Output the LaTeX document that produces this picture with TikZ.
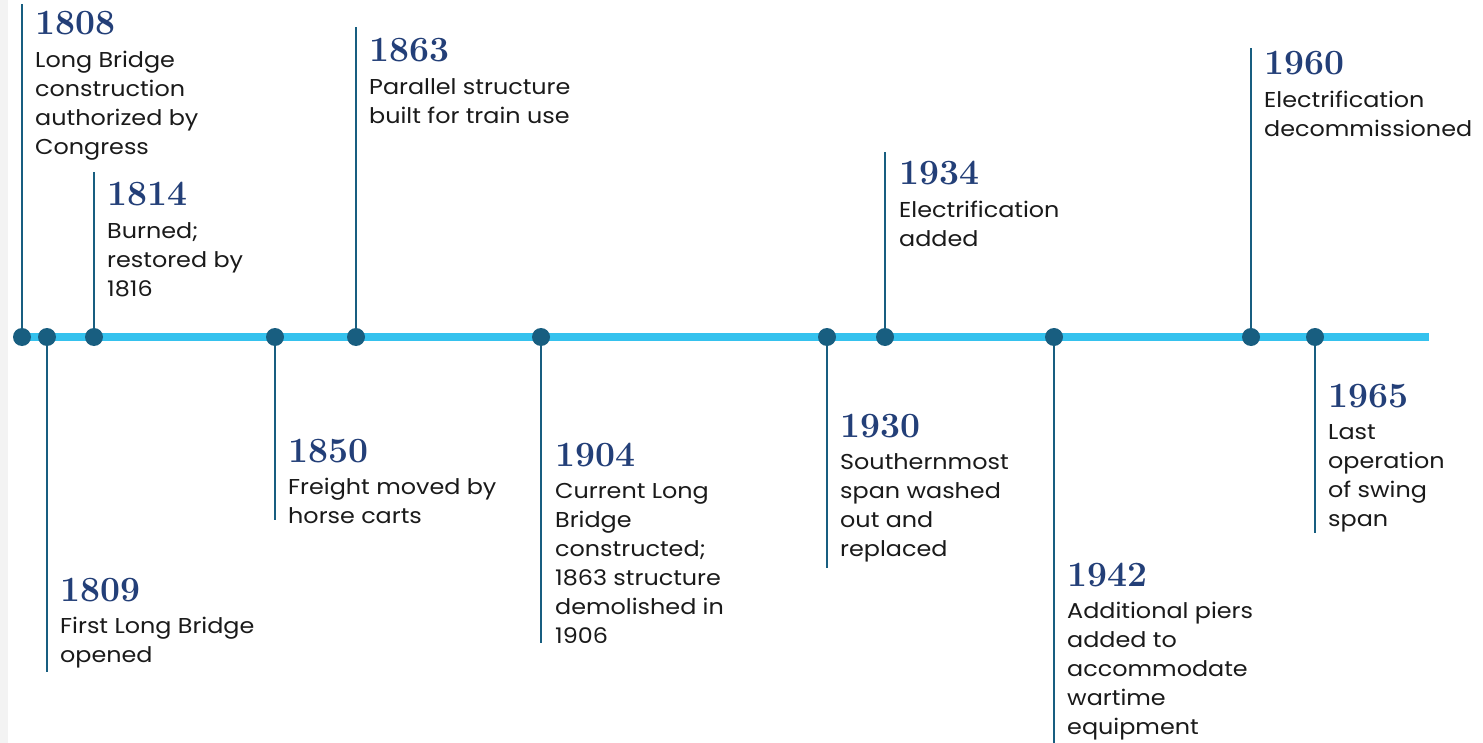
\documentclass[tikz,border=0pt]{standalone}
\usepackage{fontspec}
\newfontfamily\descfont[FakeStretch=1.11]{Poppins}
\definecolor{tlline}{HTML}{35C2EE}
\definecolor{tldot}{HTML}{185E80}
\definecolor{tlyear}{HTML}{233F78}
\definecolor{tltext}{HTML}{1A1A1A}
\definecolor{tledge}{HTML}{F3F3F3}
\tikzset{
  mainline/.style={line width=8pt, tlline},
  stem/.style={line width=2.6pt, tldot},
  dot/.style={circle, fill=tldot, minimum size=18pt, inner sep=0pt},
  yearlbl/.style={anchor=base west, inner sep=0pt, text=tlyear, font=\fontsize{35.5}{37}\selectfont\bfseries},
  desc/.style={anchor=base west, inner sep=0pt, text=tltext, font=\descfont\fontsize{21.5}{29}\selectfont},
}
% #1 year, #2 x, #3 stem end y, #4 year baseline y, #5 text x, #6 description
\newcommand{\tlev}[6]{%
  \coordinate (c#1) at (#2,337);
  \coordinate (e#1) at (#2,#3);
  \draw[stem] (c#1) -- (e#1);
  \node[dot] (d#1) at (c#1) {};
  \node[yearlbl] (y#1) at (#5,#4) {#1};
  \node[desc] (t#1) at (#5,#4+32.5) {\begin{tabular}[t]{@{}l@{}}#6\end{tabular}};
}
\begin{document}
\begin{tikzpicture}[x=1pt,y=-1pt]
\useasboundingbox (0,0) rectangle (1483,743);
\fill[white] (0,0) rectangle (1483,743);
\fill[tledge] (0,0) rectangle (8,743);
\coordinate (ls) at (20,337);
\coordinate (le) at (1429,337);
\draw[mainline] (ls) -- (le);
\tlev{1808}{22}{4}{35}{35}{Long Bridge\\construction\\authorized by\\Congress}
\tlev{1809}{47}{672}{601}{60}{First Long Bridge\\opened}
\tlev{1814}{94}{172}{206}{107}{Burned;\\restored by\\1816}
\tlev{1850}{275}{520}{462}{288}{Freight moved by\\horse carts}
\tlev{1863}{356}{27}{62}{369}{Parallel structure\\built for train use}
\tlev{1904}{541}{643}{466}{555}{Current Long\\Bridge\\constructed;\\1863 structure\\demolished in\\1906}
\tlev{1930}{827}{568}{437}{840}{Southernmost\\span washed\\out and\\replaced}
\tlev{1934}{885}{152}{185}{899}{Electrification\\added}
\tlev{1942}{1054}{743}{586}{1067}{Additional piers\\added to\\accommodate\\wartime\\equipment}
\tlev{1960}{1251}{48}{75}{1264}{Electrification\\decommissioned}
\tlev{1965}{1315}{533}{407}{1328}{Last\\operation\\of swing\\span}
\end{tikzpicture}
\end{document}
